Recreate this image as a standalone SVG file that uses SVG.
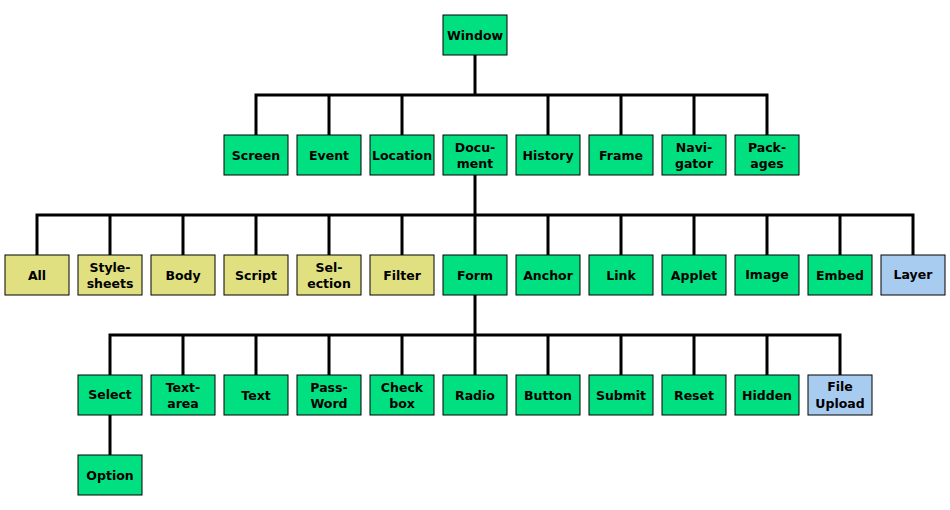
<svg xmlns="http://www.w3.org/2000/svg" width="950" height="510" viewBox="0 0 950 510">
<style>
rect{stroke:#000;stroke-width:1}
.g{fill:#00E080}.y{fill:#E0E080}.b{fill:#A8CCF0}
text{font-family:"DejaVu Sans",sans-serif;font-weight:bold;font-size:12.5px;text-anchor:middle;fill:#000}
#connectors path{fill:none;stroke:#000;stroke-width:3}
</style>
<rect width="950" height="510" fill="#fff" style="stroke:none"/>
<g id="connectors">
<path d="M475 55V95M256 135V95H767V135M329 95V135M402 95V135M548 95V135M621 95V135M694 95V135"/>
<path d="M475 175V215M37 255V215H913V255M110 215V255M183 215V255M256 215V255M329 215V255M402 215V255M475 215V255M548 215V255M621 215V255M694 215V255M767 215V255M840 215V255"/>
<path d="M475 295V335M110 375V335H840V375M183 335V375M256 335V375M329 335V375M402 335V375M475 335V375M548 335V375M621 335V375M694 335V375M767 335V375"/>
<path d="M110 415V455"/>
</g>
<g id="window"><rect class="g" x="443" y="15" width="64" height="40"/><text x="475" y="40">Window</text></g>
<g id="screen"><rect class="g" x="224" y="135" width="64" height="40"/><text x="256" y="160">Screen</text></g>
<g id="event"><rect class="g" x="297" y="135" width="64" height="40"/><text x="329" y="160">Event</text></g>
<g id="location"><rect class="g" x="370" y="135" width="64" height="40"/><text x="402" y="160">Location</text></g>
<g id="document"><rect class="g" x="443" y="135" width="64" height="40"/><text x="475" y="152">Docu-</text><text x="475" y="168">ment</text></g>
<g id="history"><rect class="g" x="516" y="135" width="64" height="40"/><text x="548" y="160">History</text></g>
<g id="frame"><rect class="g" x="589" y="135" width="64" height="40"/><text x="621" y="160">Frame</text></g>
<g id="navigator"><rect class="g" x="662" y="135" width="64" height="40"/><text x="694" y="152">Navi-</text><text x="694" y="168">gator</text></g>
<g id="packages"><rect class="g" x="735" y="135" width="64" height="40"/><text x="767" y="152">Pack-</text><text x="767" y="168">ages</text></g>
<g id="all"><rect class="y" x="5" y="255" width="64" height="40"/><text x="37" y="280">All</text></g>
<g id="stylesheets"><rect class="y" x="78" y="255" width="64" height="40"/><text x="110" y="272">Style-</text><text x="110" y="288">sheets</text></g>
<g id="body"><rect class="y" x="151" y="255" width="64" height="40"/><text x="183" y="280">Body</text></g>
<g id="script"><rect class="y" x="224" y="255" width="64" height="40"/><text x="256" y="280">Script</text></g>
<g id="selection"><rect class="y" x="297" y="255" width="64" height="40"/><text x="329" y="272">Sel-</text><text x="329" y="288">ection</text></g>
<g id="filter"><rect class="y" x="370" y="255" width="64" height="40"/><text x="402" y="280">Filter</text></g>
<g id="form"><rect class="g" x="443" y="255" width="64" height="40"/><text x="475" y="280">Form</text></g>
<g id="anchor"><rect class="g" x="516" y="255" width="64" height="40"/><text x="548" y="280">Anchor</text></g>
<g id="link"><rect class="g" x="589" y="255" width="64" height="40"/><text x="621" y="280">Link</text></g>
<g id="applet"><rect class="g" x="662" y="255" width="64" height="40"/><text x="694" y="280">Applet</text></g>
<g id="image"><rect class="g" x="735" y="255" width="64" height="40"/><text x="767" y="279">Image</text></g>
<g id="embed"><rect class="g" x="808" y="255" width="64" height="40"/><text x="840" y="280">Embed</text></g>
<g id="layer"><rect class="b" x="881" y="255" width="64" height="40"/><text x="913" y="279">Layer</text></g>
<g id="select"><rect class="g" x="78" y="375" width="64" height="40"/><text x="110" y="399">Select</text></g>
<g id="textarea"><rect class="g" x="151" y="375" width="64" height="40"/><text x="183" y="392">Text-</text><text x="183" y="408">area</text></g>
<g id="text"><rect class="g" x="224" y="375" width="64" height="40"/><text x="256" y="400">Text</text></g>
<g id="password"><rect class="g" x="297" y="375" width="64" height="40"/><text x="329" y="392">Pass-</text><text x="329" y="408">Word</text></g>
<g id="checkbox"><rect class="g" x="370" y="375" width="64" height="40"/><text x="402" y="392">Check</text><text x="402" y="408">box</text></g>
<g id="radio"><rect class="g" x="443" y="375" width="64" height="40"/><text x="475" y="400">Radio</text></g>
<g id="button"><rect class="g" x="516" y="375" width="64" height="40"/><text x="548" y="400">Button</text></g>
<g id="submit"><rect class="g" x="589" y="375" width="64" height="40"/><text x="621" y="400">Submit</text></g>
<g id="reset"><rect class="g" x="662" y="375" width="64" height="40"/><text x="694" y="400">Reset</text></g>
<g id="hidden"><rect class="g" x="735" y="375" width="64" height="40"/><text x="767" y="400">Hidden</text></g>
<g id="fileupload"><rect class="b" x="808" y="375" width="64" height="40"/><text x="840" y="391">File</text><text x="840" y="408">Upload</text></g>
<g id="option"><rect class="g" x="78" y="455" width="64" height="40"/><text x="110" y="480">Option</text></g>
</svg>
